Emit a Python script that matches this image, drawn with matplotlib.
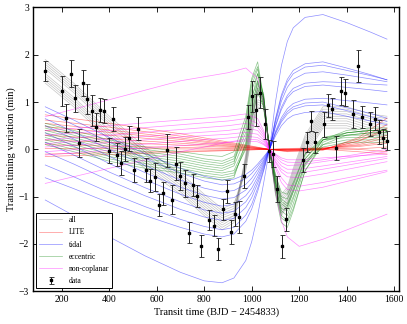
import numpy as np
import matplotlib
matplotlib.use("Agg")
import matplotlib.pyplot as plt

plt.rcParams["font.family"] = ["Liberation Serif", "DejaVu Serif"]

# ── Observed transit timing variations ──
t_obs = [129, 200, 218, 237, 254, 273, 290, 308, 325, 343, 360, 378, 397, 415,
         432, 450, 468, 485, 503, 520, 555, 573, 592, 610, 628, 645, 664, 682,
         699, 717, 735, 752, 770, 788, 822, 843, 860, 878, 896, 913, 931, 948,
         966, 984, 1003, 1020, 1037, 1055, 1073, 1091, 1108, 1127, 1143, 1215,
         1232, 1251, 1268, 1305, 1322, 1340, 1357, 1375, 1393, 1428, 1447, 1465,
         1500, 1518, 1536, 1553, 1571]
ttv_obs = [1.65, 1.23, 0.66, 1.60, 1.08, 0.13, 1.40, 1.07, 0.82, 0.47, 0.83, 0.81,
           -0.03, 0.64, -0.11, -0.29, 0.01, 0.23, -0.43, 0.44, -0.43, -0.66, -0.59,
           -1.18, -0.93, -0.02, -1.06, -0.30, -0.56, -0.72, -1.76, -0.75, -0.98,
           -2.05, -1.50, -1.61, -2.11, -1.27, -0.89, -1.75, -1.36, -1.43, -0.56,
           0.69, 1.12, 0.83, 1.20, 0.54, -0.03, -0.10, -0.84, -2.05, -1.48, -0.22,
           0.15, 0.60, 0.15, 0.53, 0.93, 0.85, 0.03, 1.23, 1.20, 0.75, 1.76, 0.68,
           0.53, 0.65, 0.37, 0.23, 0.18]
err_obs = [0.21, 0.32, 0.30, 0.28, 0.28, 0.29, 0.28, 0.32, 0.33, 0.30, 0.25, 0.26,
           0.26, 0.25, 0.25, 0.25, 0.26, 0.26, 0.25, 0.24, 0.25, 0.25, 0.30, 0.23,
           0.24, 0.35, 0.30, 0.35, 0.30, 0.28, 0.22, 0.23, 0.23, 0.23, 0.21, 0.23,
           0.23, 0.23, 0.24, 0.26, 0.25, 0.33, 0.26, 0.25, 0.32, 0.33, 0.33, 0.32,
           0.23, 0.28, 0.28, 0.24, 0.25, 0.25, 0.21, 0.22, 0.22, 0.26, 0.25, 0.23,
           0.25, 0.30, 0.29, 0.30, 0.34, 0.23, 0.25, 0.25, 0.26, 0.21, 0.20]

# ── Model curves (sampled on a common time grid) ──
t_mod = [130, 250, 400, 550, 700, 800, 875, 925, 975, 1000, 1025, 1050, 1075,
         1100, 1125, 1150, 1175, 1225, 1300, 1400, 1500, 1570]

all_models = [
    [1.90, 1.40, 0.70, 0.05, -0.55, -1.00, -1.30, -1.20, -0.30, 0.45, 1.00, 0.95, 0.00, -0.55, -1.05, -0.90, -0.50, 0.20, 0.80, 0.80, 0.65, 0.60],
    [1.80, 1.30, 0.60, -0.05, -0.65, -1.10, -1.40, -1.30, -0.35, 0.45, 1.05, 1.00, 0.00, -0.60, -1.10, -0.95, -0.55, 0.15, 0.75, 0.75, 0.60, 0.55],
    [1.70, 1.20, 0.50, -0.10, -0.70, -1.15, -1.45, -1.35, -0.20, 0.60, 1.15, 1.05, 0.00, -0.65, -1.20, -1.00, -0.60, 0.10, 0.70, 0.70, 0.55, 0.50],
    [1.60, 1.10, 0.40, -0.20, -0.75, -1.20, -1.50, -1.40, -0.25, 0.55, 1.20, 1.10, 0.00, -0.70, -1.25, -1.05, -0.65, 0.05, 0.65, 0.65, 0.50, 0.45],
    [1.55, 1.05, 0.35, -0.25, -0.80, -1.25, -1.55, -1.40, -0.15, 0.70, 1.25, 1.10, 0.00, -0.70, -1.30, -1.10, -0.70, 0.00, 0.60, 0.60, 0.45, 0.40],
    [1.50, 1.00, 0.30, -0.30, -0.85, -1.30, -1.60, -1.45, -0.10, 0.75, 1.30, 1.15, 0.00, -0.75, -1.35, -1.15, -0.75, -0.05, 0.55, 0.55, 0.40, 0.35],
    [1.45, 0.95, 0.25, -0.35, -0.90, -1.35, -1.65, -1.50, -0.20, 0.70, 1.35, 1.20, 0.00, -0.80, -1.40, -1.20, -0.80, -0.10, 0.50, 0.50, 0.35, 0.30],
    [1.40, 0.90, 0.20, -0.40, -0.95, -1.40, -1.70, -1.55, -0.30, 0.60, 1.25, 1.15, 0.00, -0.75, -1.35, -1.20, -0.85, -0.15, 0.45, 0.45, 0.30, 0.25],
    [1.75, 1.25, 0.55, -0.05, -0.60, -1.05, -1.35, -1.25, -0.40, 0.35, 0.95, 0.90, 0.00, -0.55, -1.00, -0.85, -0.45, 0.25, 0.85, 0.85, 0.70, 0.65],
    [1.85, 1.35, 0.65, 0.00, -0.50, -0.95, -1.25, -1.15, -0.45, 0.30, 0.90, 0.85, 0.00, -0.50, -0.95, -0.80, -0.40, 0.30, 0.90, 0.90, 0.75, 0.70],
]

tidal_models = [
    [0.90, 0.62, 0.25, -0.09, -0.40, -0.57, -0.65, -0.63, -0.53, -0.44, -0.31, -0.16, 0.00, 0.28, 0.50, 0.64, 0.72, 0.78, 0.80, 0.70, 0.60, 0.52],
    [0.80, 0.52, 0.15, -0.19, -0.50, -0.67, -0.75, -0.73, -0.62, -0.51, -0.36, -0.19, 0.00, 0.33, 0.58, 0.75, 0.85, 0.92, 0.94, 0.82, 0.69, 0.59],
    [0.65, 0.37, 0.00, -0.34, -0.65, -0.82, -0.90, -0.87, -0.74, -0.61, -0.43, -0.23, 0.00, 0.35, 0.62, 0.80, 0.90, 0.98, 1.00, 0.88, 0.76, 0.66],
    [0.50, 0.22, -0.15, -0.49, -0.80, -0.97, -1.05, -1.02, -0.86, -0.71, -0.50, -0.26, 0.00, 0.38, 0.67, 0.86, 0.97, 1.06, 1.08, 1.03, 0.98, 0.94],
    [0.35, 0.07, -0.30, -0.64, -0.95, -1.12, -1.20, -1.16, -0.98, -0.82, -0.58, -0.30, 0.00, 0.48, 0.84, 1.09, 1.22, 1.33, 1.36, 1.31, 1.26, 1.22],
    [0.15, -0.12, -0.48, -0.81, -1.11, -1.28, -1.35, -1.31, -1.11, -0.92, -0.65, -0.34, 0.00, 0.50, 0.89, 1.14, 1.29, 1.40, 1.43, 1.41, 1.38, 1.36],
    [-0.05, -0.31, -0.66, -0.98, -1.27, -1.43, -1.50, -1.46, -1.23, -1.02, -0.72, -0.38, 0.00, 0.57, 1.02, 1.31, 1.48, 1.61, 1.64, 1.57, 1.49, 1.43],
    [-0.33, -0.58, -0.91, -1.21, -1.48, -1.63, -1.70, -1.65, -1.39, -1.16, -0.82, -0.43, 0.00, 0.62, 1.10, 1.42, 1.60, 1.74, 1.78, 1.67, 1.56, 1.47],
    [-0.60, -0.83, -1.13, -1.40, -1.65, -1.79, -1.85, -1.79, -1.52, -1.26, -0.89, -0.46, 0.00, 0.65, 1.15, 1.48, 1.67, 1.81, 1.85, 1.72, 1.58, 1.47],
    [-1.07, -1.40, -1.85, -2.25, -2.60, -2.78, -2.82, -2.72, -2.35, -1.95, -1.40, -0.72, 0.00, 1.00, 1.77, 2.28, 2.57, 2.79, 2.85, 2.68, 2.48, 2.33],
]

eccentric_models = [
    [0.55, 0.40, 0.20, 0.05, -0.05, -0.12, -0.15, -0.05, 0.70, 1.50, 1.85, 1.10, 0.00, -0.95, -1.55, -1.65, -1.30, -0.45, 0.15, 0.35, 0.40, 0.40],
    [0.50, 0.35, 0.15, 0.00, -0.10, -0.20, -0.25, -0.15, 0.55, 1.35, 1.70, 1.05, 0.00, -0.85, -1.40, -1.50, -1.15, -0.35, 0.20, 0.40, 0.45, 0.45],
    [0.45, 0.30, 0.10, -0.05, -0.15, -0.25, -0.30, -0.20, 0.45, 1.25, 1.60, 1.00, 0.00, -0.80, -1.30, -1.40, -1.05, -0.30, 0.20, 0.35, 0.40, 0.40],
    [0.40, 0.25, 0.05, -0.10, -0.20, -0.30, -0.35, -0.25, 0.35, 1.10, 1.45, 0.95, 0.00, -0.70, -1.15, -1.25, -0.90, -0.20, 0.25, 0.35, 0.40, 0.40],
    [0.30, 0.15, -0.05, -0.20, -0.30, -0.40, -0.45, -0.35, 0.25, 0.95, 1.40, 0.95, 0.00, -0.65, -1.05, -1.15, -0.85, -0.20, 0.20, 0.30, 0.35, 0.35],
    [0.25, 0.10, -0.10, -0.25, -0.35, -0.45, -0.50, -0.45, 0.10, 0.80, 1.30, 0.90, 0.00, -0.60, -1.00, -1.05, -0.75, -0.10, 0.25, 0.30, 0.30, 0.30],
    [0.20, 0.05, -0.15, -0.30, -0.40, -0.50, -0.55, -0.50, 0.00, 0.65, 1.20, 0.90, 0.00, -0.55, -0.90, -0.95, -0.70, -0.10, 0.20, 0.25, 0.25, 0.25],
    [0.15, 0.00, -0.20, -0.35, -0.45, -0.55, -0.60, -0.55, 0.05, 0.85, 1.45, 1.05, 0.00, -0.70, -1.10, -1.20, -0.90, -0.25, 0.10, 0.20, 0.20, 0.20],
    [0.10, -0.05, -0.25, -0.40, -0.50, -0.60, -0.65, -0.60, 0.15, 1.05, 1.60, 1.15, 0.00, -0.80, -1.25, -1.30, -1.00, -0.30, 0.05, 0.15, 0.15, 0.15],
    [0.35, 0.20, 0.00, -0.15, -0.25, -0.35, -0.40, -0.30, 0.60, 1.45, 1.75, 1.10, 0.00, -0.90, -1.45, -1.55, -1.25, -0.45, 0.10, 0.30, 0.35, 0.35],
]

t_lite = [130, 400, 700, 1000, 1075, 1150, 1300, 1450, 1570]
lite_models = [
    [0.73, 0.55, 0.33, 0.07, 0.00, -0.05, -0.02, 0.25, 0.66],
    [0.62, 0.47, 0.28, 0.06, 0.00, -0.04, 0.00, 0.22, 0.52],
    [0.55, 0.41, 0.24, 0.05, 0.00, -0.03, 0.00, 0.18, 0.45],
    [0.48, 0.36, 0.21, 0.04, 0.00, -0.03, 0.00, 0.17, 0.41],
    [0.40, 0.30, 0.17, 0.03, 0.00, -0.02, 0.01, 0.13, 0.30],
    [0.30, 0.22, 0.13, 0.03, 0.00, -0.01, 0.02, 0.10, 0.25],
    [0.20, 0.15, 0.09, 0.02, 0.00, 0.00, 0.03, 0.08, 0.17],
    [0.10, 0.07, 0.04, 0.01, 0.00, 0.00, 0.02, 0.06, 0.13],
    [0.02, 0.02, 0.01, 0.00, 0.00, 0.00, 0.00, 0.01, 0.05],
    [-0.10, -0.07, -0.04, -0.01, 0.00, 0.01, 0.00, -0.05, -0.10],
    [-0.15, -0.11, -0.06, -0.01, 0.00, 0.02, 0.03, 0.00, -0.05],
]

t_ncp = [130, 400, 700, 900, 975, 1025, 1050, 1075, 1100, 1125, 1150, 1200, 1300, 1570]
noncoplanar_models = [
    [0.69, 1.05, 1.45, 1.62, 1.72, 1.50, 1.00, 0.00, -0.90, -1.50, -1.85, -2.05, -1.90, -1.37],
    [0.40, 0.50, 0.62, 0.70, 0.75, 0.65, 0.40, 0.00, -0.40, -0.70, -0.85, -0.88, -0.80, -0.47],
    [0.30, 0.40, 0.52, 0.60, 0.65, 0.55, 0.35, 0.00, -0.35, -0.60, -0.75, -0.78, -0.70, -0.44],
    [0.20, 0.30, 0.42, 0.50, 0.55, 0.47, 0.30, 0.00, -0.28, -0.48, -0.58, -0.60, -0.52, -0.26],
    [0.12, 0.22, 0.33, 0.40, 0.45, 0.40, 0.25, 0.00, -0.25, -0.42, -0.50, -0.50, -0.42, -0.19],
    [0.05, 0.14, 0.26, 0.32, 0.36, 0.32, 0.20, 0.00, -0.20, -0.35, -0.42, -0.42, -0.35, -0.15],
    [-0.05, 0.05, 0.17, 0.24, 0.28, 0.25, 0.16, 0.00, -0.15, -0.28, -0.34, -0.33, -0.26, -0.05],
    [-0.72, -0.40, -0.05, 0.15, 0.22, 0.20, 0.12, 0.00, -0.12, -0.22, -0.27, -0.28, -0.22, 0.00],
    [-0.12, -0.02, 0.08, 0.15, 0.18, 0.16, 0.10, 0.00, -0.10, -0.18, -0.22, -0.22, -0.18, -0.10],
]

# ── Plot ──
fig = plt.figure(figsize=(4.07, 3.24), dpi=100)
ax = fig.add_axes([0.082, 0.101, 0.898, 0.876])

lw, al = 0.5, 0.45
groups = [
    (t_mod, all_models, "gray", "all"),
    (t_lite, lite_models, "red", "LITE"),
    (t_mod, tidal_models, "blue", "tidal"),
    (t_mod, eccentric_models, "green", "eccentric"),
    (t_ncp, noncoplanar_models, "magenta", "non-coplanar"),
]
for tt, models, col, lab in groups:
    for i, m in enumerate(models):
        ax.plot(tt, m, "-", color=col, lw=lw, alpha=al,
                label=lab if i == 0 else None)

ax.errorbar(t_obs, ttv_obs, yerr=err_obs, fmt="s", color="black", ms=2.0,
            elinewidth=0.7, ecolor="#222222", capsize=1.8, capthick=0.6,
            label="data")

ax.set_xlim(80, 1620)
ax.set_ylim(-3, 3)
ax.set_xticks(np.arange(200, 1601, 200))
ax.set_yticks(np.arange(-3, 4, 1))
ax.set_yticklabels(["\u22123", "\u22122", "\u22121", "0", "1", "2", "3"])
ax.tick_params(direction="in", top=True, right=True, length=3.5, width=0.6,
               labelsize=7, pad=3)
for s in ax.spines.values():
    s.set_linewidth(1.0)

ax.set_xlabel("Transit time (BJD \u2212 2454833)", fontsize=7.5, labelpad=2)
ax.set_ylabel("Transit timing variation (min)", fontsize=7.5, labelpad=2)

leg = ax.legend(loc="lower left", fontsize=5.5, fancybox=False, framealpha=1,
                edgecolor="black", handlelength=3, borderaxespad=0.4,
                labelspacing=0.55)
leg.get_frame().set_linewidth(0.7)

plt.savefig("out.png", dpi=100)
